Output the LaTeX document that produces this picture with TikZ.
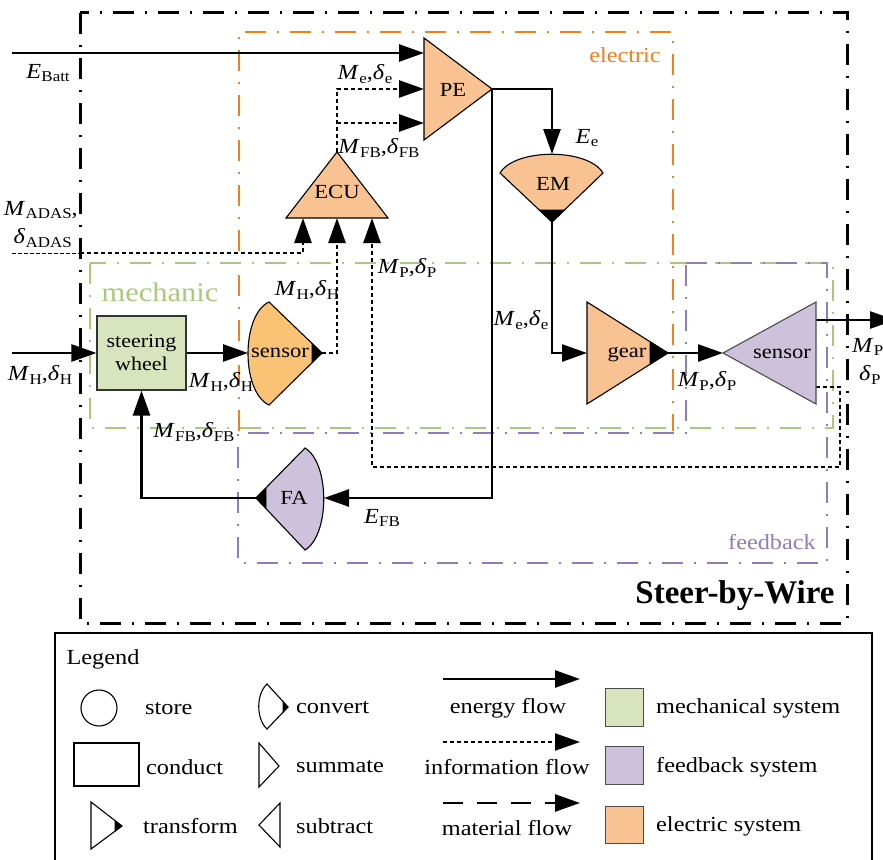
\documentclass[tikz,border=0pt]{standalone}
\usepackage{fontspec}
\setmainfont{Liberation Serif}[FakeStretch=1.13]
\newfontfamily\titlefont{Liberation Serif}
\usetikzlibrary{arrows.meta}

\definecolor{elecline}{HTML}{F07F1F}
\definecolor{mechline}{HTML}{A8C97B}
\definecolor{fbline}{HTML}{8E7DBA}
\definecolor{elecfill}{HTML}{F9C292}
\definecolor{sensfill}{HTML}{F9C275}
\definecolor{mechfill}{HTML}{D8E4BD}
\definecolor{fbfill}{HTML}{CDC1DB}

% quantity with upright subscript, e.g. M_H
\newcommand\fq[2]{\textit{#1}\kern0.3pt\raisebox{-0.35ex}{\fontsize{15}{15}\selectfont #2}}

\tikzset{
  bigtip/.style={-{Triangle[length=25pt,width=17pt]}},
  energy/.style={line width=2.6pt, bigtip},
  info/.style={line width=2.6pt, dash pattern=on 4pt off 3pt, bigtip},
  material/.style={line width=2.6pt, dash pattern=on 20pt off 14pt, bigtip},
  lbl/.style={font=\fontsize{21.5}{23}\selectfont, inner sep=0pt},
  blklbl/.style={font=\fontsize{20}{23}\selectfont, inner sep=0pt},
  blk/.style={draw=black, line width=1.1pt, line join=miter},
  sysbox/.style={line width=2.7pt, dash pattern=on 21pt off 11pt on 2pt off 11pt},
  blacktip/.style={fill=black, draw=black, line width=0.6pt},
}

\begin{document}
\begin{tikzpicture}[x=1pt,y=-1pt]
\useasboundingbox (0,0) rectangle (883,859);

% ---------- system boundaries ----------
\draw[sysbox, black, line width=3pt] (80,13) rectangle (847,623);
% electric boundary: its lower edge lies under the mechanic/feedback edges
\draw[sysbox, elecline] (239,431) -- (239,32) -- (673,32) -- (673,431);
\draw[sysbox, mechline] (90,263) rectangle (833,428);
\draw[sysbox, fbline] (686,263) -- (827,263) -- (827,563) -- (238,563) -- (238,433) -- (686,433) -- cycle;

\node[lbl, text=elecline] (lelec) at (625,55) {electric};
\node[lbl, text=mechline, font=\fontsize{27}{28}\selectfont] (lmech) at (160,292) {mechanic};
\node[lbl, text=fbline] (lfb) at (772,542) {feedback};
\node[inner sep=0pt, font=\titlefont\bfseries\fontsize{33}{34}\selectfont] (lsbw) at (735,596) {Steer-by-Wire};

% ---------- ports ----------
\coordinate (Batt) at (12,53);
\coordinate (PEa) at (424,53);
\coordinate (PEb) at (424,89);
\coordinate (PEc) at (424,123);
\coordinate (PEtip) at (492,89);
\coordinate (ECUtop) at (337,152);
\coordinate (ECUbr) at (337,123);
\coordinate (ECUin1) at (303,218);
\coordinate (ECUin2) at (337,218);
\coordinate (ECUin3) at (372,218);
\coordinate (EMtop) at (552,154);
\coordinate (EMtip) at (552,222);
\coordinate (gearin) at (587,353);
\coordinate (geartip) at (668,353);
\coordinate (s2tip) at (723,353);
\coordinate (s2out) at (816,320);
\coordinate (s2info) at (816,387);
\coordinate (Pout) at (895,320);
\coordinate (loopc) at (840,467);
\coordinate (s1in) at (248,353);
\coordinate (s1tip) at (322,353);
\coordinate (FAin) at (324,498);
\coordinate (FAtip) at (256,498);
\coordinate (ADAS) at (12,253);
\coordinate (ADASedge) at (80,253);
\coordinate (Hin) at (12,353);

% ---------- connectors ----------
\draw[energy] (Batt) -- (PEa);
\draw[info] (ECUtop) |- (PEb);
\draw[info] (ECUbr) -- (PEc);
\draw[energy] (PEtip) -| (EMtop);
\draw[energy] (PEtip) |- (FAin);
\draw[energy] (EMtip) |- (gearin);
\draw[energy] (geartip) -- (s2tip);
\draw[energy] (s2out) -- (Pout);
\draw[info] (s2info) -| (loopc) -| (ECUin3);
\draw[info] (s1tip) -| (ECUin2);
\draw[line width=1pt, dash pattern=on 4pt off 2pt] (ADAS) -- (ADASedge);
\draw[info] (ADASedge) -| (ECUin1);

% ---------- blocks ----------
% PE (summate)
\draw[blk, fill=elecfill] (424,38) -- (492,89) -- (424,140) -- cycle;
\node[blklbl] (PE) at (453,90) {PE};
% ECU (summate, pointing up)
\draw[blk, fill=elecfill] (337,152) -- (388,218) -- (286,218) -- cycle;
\node[blklbl] (ECU) at (337,192) {ECU};
% EM (convert, pointing down)
\draw[blk, fill=elecfill] (500,173) .. controls (515,148) and (588,148) .. (603,173) -- (552,222) -- cycle;
\draw[blacktip] (539.3,210) -- (552,222) -- (564.7,210) -- cycle;
\node[blklbl] (EM) at (553,184) {EM};
% sensor (convert, pointing right)
\draw[blk, fill=sensfill] (269,302) .. controls (241,315) and (241,392) .. (269,405) -- (322,353) -- cycle;
\draw[blacktip] (312,343) -- (322,353) -- (312,363) -- cycle;
\node[blklbl] (S1) at (280,353) {sensor};
% gear (transform)
\draw[blk, fill=elecfill] (587,302) -- (668,353) -- (587,404) -- cycle;
\draw[blacktip] (650,341.7) -- (668,353) -- (650,364.3) -- cycle;
\node[blklbl] (gear) at (627,355) {gear};
% sensor (subtract)
\draw[blk, fill=fbfill, draw=black!70] (816,302) -- (723,353) -- (816,404) -- cycle;
\node[blklbl] (S2) at (782,354) {sensor};
% FA (convert, pointing left)
\draw[blk, fill=fbfill] (305,448) .. controls (330,463) and (330,535) .. (305,550) -- (256,498) -- cycle;
\draw[blacktip] (266,487.8) -- (256,498) -- (266,508.2) -- cycle;
\node[blklbl] (FA) at (294,498) {FA};
% steering wheel (conduct)
\node[draw=black!80, line width=1.1pt, fill=mechfill, minimum width=89pt, minimum height=74pt,
      align=center, inner sep=0pt, font=\fontsize{19.5}{23}\selectfont] (SW) at (141.5,353) {steering\\wheel};

\draw[energy] (Hin) -- (SW.west);
\draw[energy] (SW.east) -- (s1in);
\draw[energy] (FAtip) -| (SW.south);

% ---------- flow labels ----------
\node[lbl] (tBatt) at (48,73) {\fq{E}{Batt}};
\node[lbl, anchor=east] (tADAS1) at (78,210) {\fq{M}{ADAS},};
\node[lbl, anchor=east] (tADAS2) at (72,238) {\fq{δ}{ADAS}};
\node[lbl] (tMe1) at (365,74) {\fq{M}{e},\fq{δ}{e}};
\node[lbl] (tMFB1) at (379,148) {\fq{M}{FB},\fq{δ}{FB}};
\node[lbl] (tEe) at (587,138) {\fq{E}{e}};
\node[lbl] (tMP1) at (407,268) {\fq{M}{P},\fq{δ}{P}};
\node[lbl] (tMH1) at (307,290) {\fq{M}{H},\fq{δ}{H}};
\node[lbl] (tMe2) at (521,320) {\fq{M}{e},\fq{δ}{e}};
\node[lbl] (tEFB) at (382,518) {\fq{E}{FB}};
\node[lbl] (tMH0) at (40,375) {\fq{M}{H},\fq{δ}{H}};
\node[lbl] (tMH2) at (221,382) {\fq{M}{H},\fq{δ}{H}};
\node[lbl] (tMFB2) at (194,432) {\fq{M}{FB},\fq{δ}{FB}};
\node[lbl] (tMP2) at (707,381) {\fq{M}{P},\fq{δ}{P}};
\node[lbl, anchor=west] (tMP3) at (852,347) {\fq{M}{P},};
\node[lbl, anchor=west] (tMP4) at (859,375) {\fq{δ}{P}};

% ---------- legend ----------
\draw[line width=2.8pt] (55,633) rectangle (872,900);
\node[lbl] (leg) at (103,659) {Legend};

\draw[line width=1.1pt] (99,708) circle[radius=18pt];
\node[lbl, anchor=west] (lstore) at (145,709) {store};
\draw[line width=1.1pt] (74,743) rectangle (139,786);
\node[lbl, anchor=west] (lcond) at (146,767) {conduct};
\draw[blk] (91,802) -- (122,826) -- (91,849) -- cycle;
\draw[blacktip] (115,820.7) -- (122,826) -- (115,831.3) -- cycle;
\node[lbl, anchor=west] (ltrans) at (143,826) {transform};

\draw[blk] (267,684) .. controls (256,694) and (256,719) .. (267,729) -- (288,707) -- cycle;
\draw[blacktip] (283,701.6) -- (288,707) -- (283,712.4) -- cycle;
\node[lbl, anchor=west] (lconv) at (296,708) {convert};
\draw[blk] (259,743) -- (279,766) -- (259,787) -- cycle;
\node[lbl, anchor=west] (lsum) at (296,767) {summate};
\draw[blk] (280,803) -- (259,825) -- (280,847) -- cycle;
\node[lbl, anchor=west] (lsub) at (296,826) {subtract};

\coordinate (fe0) at (443,679); \coordinate (fe1) at (580,679);
\coordinate (fi0) at (443,742); \coordinate (fi1) at (580,742);
\coordinate (fm0) at (443,803); \coordinate (fm1) at (580,803);
\draw[energy] (fe0) -- (fe1);
\draw[info, line width=2pt] (fi0) -- (fi1);
\draw[material] (fm0) -- (fm1);
\node[lbl] (lef) at (508,708) {energy flow};
\node[lbl] (lif) at (507,767) {information flow};
\node[lbl] (lmf) at (507,828) {material flow};

\draw[draw=black!70, line width=1pt, fill=mechfill] (605,688) rectangle (643,726);
\draw[draw=black!70, line width=1pt, fill=fbfill] (605,746) rectangle (643,784);
\draw[draw=black!70, line width=1pt, fill=elecfill] (605,806) rectangle (643,843);
\node[lbl, anchor=west] (lms) at (656,708) {mechanical system};
\node[lbl, anchor=west] (lfs) at (656,767) {feedback system};
\node[lbl, anchor=west] (les) at (656,826) {electric system};
\end{tikzpicture}
\end{document}
